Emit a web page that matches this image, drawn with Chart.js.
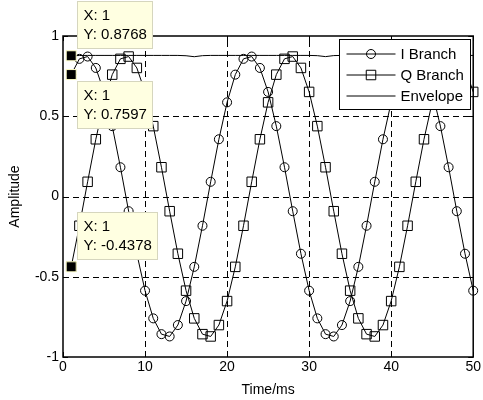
<!DOCTYPE html>
<html>
<head>
<meta charset="utf-8">
<title>I/Q branches and envelope</title>
<script src="https://cdn.jsdelivr.net/npm/chart.js@4.4.1/dist/chart.umd.min.js"></script>
<style>
  html, body { margin: 0; padding: 0; background: #fff; }
  #chart { display: block; }
</style>
</head>
<body>
<canvas id="chart" width="483" height="400"></canvas>
<script>
const timeMs = [
  1, 2, 3, 4, 5, 6, 7, 8, 9, 10,
  11, 12, 13, 14, 15, 16, 17, 18, 19, 20,
  21, 22, 23, 24, 25, 26, 27, 28, 29, 30,
  31, 32, 33, 34, 35, 36, 37, 38, 39, 40,
  41, 42, 43, 44, 45, 46, 47, 48, 49, 50
];

const iBranch = [
  0.7597, 0.8576, 0.8720, 0.8010, 0.6516, 0.4384, 0.1823, -0.0916, -0.3566, -0.5867,
  -0.7593, -0.8576, -0.8720, -0.8010, -0.6516, -0.4384, -0.1823, 0.0916, 0.3566, 0.5867,
  0.7593, 0.8576, 0.8720, 0.8010, 0.6516, 0.4384, 0.1823, -0.0916, -0.3566, -0.5867,
  -0.7593, -0.8576, -0.8720, -0.8010, -0.6516, -0.4384, -0.1823, 0.0916, 0.3566, 0.5867,
  0.7593, 0.8576, 0.8720, 0.8010, 0.6516, 0.4384, 0.1823, -0.0916, -0.3566, -0.5867
];

const qBranch = [
  -0.4378, -0.1823, 0.0916, 0.3566, 0.5867, 0.7593, 0.8576, 0.8720, 0.8010, 0.6516,
  0.4384, 0.1823, -0.0916, -0.3566, -0.5867, -0.7593, -0.8576, -0.8720, -0.8010, -0.6516,
  -0.4384, -0.1823, 0.0916, 0.3566, 0.5867, 0.7593, 0.8576, 0.8720, 0.8010, 0.6516,
  0.4384, 0.1823, -0.0916, -0.3566, -0.5867, -0.7593, -0.8576, -0.8720, -0.8010, -0.6516,
  -0.4384, -0.1823, 0.0916, 0.3566, 0.5867, 0.7593, 0.8576, 0.8720, 0.8010, 0.6516
];

const envelope = [
  0.8768, 0.8785, 0.8790, 0.8790, 0.8790, 0.8790, 0.8790, 0.8790, 0.8790, 0.8790,
  0.8790, 0.8790, 0.8790, 0.8790, 0.8770, 0.8710, 0.8775, 0.8790, 0.8790, 0.8790,
  0.8790, 0.8790, 0.8790, 0.8790, 0.8790, 0.8790, 0.8790, 0.8790, 0.8790, 0.8790,
  0.8775, 0.8715, 0.8780, 0.8790, 0.8790, 0.8790, 0.8790, 0.8790, 0.8790, 0.8790,
  0.8790, 0.8790, 0.8790, 0.8790, 0.8790, 0.8790, 0.8790, 0.8790, 0.8790, 0.8790
];

const xTicks = [0, 10, 20, 30, 40, 50];
const yTicks = [-1, -0.5, 0, 0.5, 1];

// data tips pinned on the first sample of each curve
const dataTips = [
  { series: envelope, index: 0, side: 'above' },
  { series: iBranch, index: 0, side: 'below' },
  { series: qBranch, index: 0, side: 'above' }
];

const FONT = "'Liberation Sans', Arial, Helvetica, sans-serif";

function toPoints (values) {
  return timeMs.map((t, i) => ({ x: t, y: values[i] }));
}

function drawMarker (ctx, style, cx, cy) {
  ctx.beginPath();
  if (style === 'circle') {
    ctx.arc(cx, cy, 4.5, 0, Math.PI * 2);
  } else if (style === 'rect') {
    ctx.rect(cx - 4.75, cy - 4.75, 9.5, 9.5);
  }
  ctx.stroke();
}

function drawLegend (chart) {
  const { ctx, chartArea: area } = chart;
  const w = 131;
  const h = 70;
  const left = Math.round(area.right - 3 - w) + 0.5;
  const top = area.top + 3.5;

  ctx.save();
  ctx.setLineDash([]);
  ctx.lineWidth = 1;
  ctx.strokeStyle = '#000';
  ctx.fillStyle = '#fff';
  ctx.fillRect(left, top, w, h);
  ctx.strokeRect(left, top, w, h);

  ctx.font = '15px ' + FONT;
  ctx.textBaseline = 'middle';
  ctx.textAlign = 'left';
  chart.data.datasets.forEach((ds, i) => {
    const cy = top + 14.5 + i * 21;
    ctx.beginPath();
    ctx.moveTo(left + 7, cy);
    ctx.lineTo(left + 56, cy);
    ctx.stroke();
    if (ds.pointRadius > 0) {
      ctx.fillStyle = '#fff';
      drawMarker(ctx, ds.pointStyle, left + 31.5, cy);
    }
    ctx.fillStyle = '#000';
    ctx.fillText(ds.label, left + 61, cy + 0.5);
  });
  ctx.restore();
}

function drawDataTips (chart) {
  const { ctx, scales: { x, y } } = chart;
  ctx.save();
  ctx.setLineDash([]);
  ctx.font = '15px ' + FONT;
  ctx.textBaseline = 'middle';
  ctx.textAlign = 'left';
  dataTips.forEach(tip => {
    const t = timeMs[tip.index];
    const v = tip.series[tip.index];
    const px = x.getPixelForValue(t);
    const py = y.getPixelForValue(v);
    const lines = ['X: ' + t, 'Y: ' + v.toFixed(4)];
    const w = Math.round(Math.max(...lines.map(l => ctx.measureText(l).width)) + 12);
    const h = 47;
    const bx = Math.round(px + 6) + 0.5;
    const by = Math.round(tip.side === 'above' ? py - 7.5 - h : py + 6.5) + 0.5;

    ctx.fillStyle = 'rgb(255, 255, 225)';
    ctx.strokeStyle = 'rgb(214, 214, 190)';
    ctx.lineWidth = 1;
    ctx.fillRect(bx, by, w, h);
    ctx.strokeRect(bx, by, w, h);

    ctx.fillStyle = '#000';
    ctx.fillText(lines[0], bx + 6, by + 14.5);
    ctx.fillText(lines[1], bx + 6, by + 33);

    // the marked sample itself
    ctx.fillStyle = '#000';
    ctx.strokeStyle = 'rgb(255, 255, 200)';
    ctx.fillRect(px - 5, py - 5, 10, 10);
    ctx.strokeRect(px - 5, py - 5, 10, 10);
  });
  ctx.restore();
}

const axesBox = {
  id: 'axesBox',
  beforeDatasetsDraw (chart) {
    const { ctx, chartArea: area, scales: { x, y } } = chart;
    ctx.save();
    ctx.strokeStyle = '#000';
    ctx.lineWidth = 1;
    ctx.setLineDash([6, 4]);
    ctx.beginPath();
    xTicks.slice(1, -1).forEach(v => {
      const px = Math.round(x.getPixelForValue(v)) + 0.5;
      ctx.moveTo(px, area.bottom);
      ctx.lineTo(px, area.top);
    });
    yTicks.slice(1, -1).forEach(v => {
      const py = Math.round(y.getPixelForValue(v)) + 0.5;
      ctx.moveTo(area.left, py);
      ctx.lineTo(area.right, py);
    });
    ctx.stroke();
    ctx.restore();
  },
  afterDatasetsDraw (chart) {
    const { ctx, chartArea: area, scales: { x, y } } = chart;
    ctx.save();
    ctx.strokeStyle = '#000';
    ctx.setLineDash([]);
    ctx.lineWidth = 1;
    ctx.beginPath();
    xTicks.forEach(v => {
      const px = Math.round(x.getPixelForValue(v)) + 0.5;
      ctx.moveTo(px, area.bottom);
      ctx.lineTo(px, area.bottom - 5);
      ctx.moveTo(px, area.top);
      ctx.lineTo(px, area.top + 5);
    });
    yTicks.forEach(v => {
      const py = Math.round(y.getPixelForValue(v)) + 0.5;
      ctx.moveTo(area.left, py);
      ctx.lineTo(area.left + 5, py);
      ctx.moveTo(area.right, py);
      ctx.lineTo(area.right - 5, py);
    });
    ctx.stroke();
    ctx.lineWidth = 1.5;
    ctx.strokeRect(area.left, area.top, area.right - area.left, area.bottom - area.top);
    ctx.restore();

    drawLegend(chart);
    drawDataTips(chart);
  }
};

const lineStyle = {
  borderColor: '#000',
  borderWidth: 1,
  pointBorderColor: '#000',
  pointBackgroundColor: 'rgba(0, 0, 0, 0)',
  pointBorderWidth: 1,
  tension: 0,
  clip: false
};

// eslint-disable-next-line no-undef
const chart = new Chart('chart', {
  type: 'line',
  data: {
    datasets: [
      { ...lineStyle, label: 'I Branch', data: toPoints(iBranch), pointStyle: 'circle', pointRadius: 4.5 },
      { ...lineStyle, label: 'Q Branch', data: toPoints(qBranch), pointStyle: 'rect', pointRadius: 6.7 },
      { ...lineStyle, label: 'Envelope', data: toPoints(envelope), pointRadius: 0 }
    ]
  },
  options: {
    responsive: false,
    animation: false,
    events: [],
    devicePixelRatio: 1,
    layout: { padding: { top: 36, right: 9, bottom: 0, left: 0 } },
    plugins: {
      legend: { display: false },
      tooltip: { enabled: false }
    },
    scales: {
      x: {
        type: 'linear',
        min: 0,
        max: 50,
        afterBuildTicks: scale => { scale.ticks = xTicks.map(value => ({ value })); },
        afterFit: scale => { scale.height = 43; },
        ticks: { color: '#000', font: { family: FONT, size: 14 }, padding: 2, maxRotation: 0, autoSkip: false },
        grid: { display: false, drawTicks: false },
        border: { display: false },
        title: { display: true, text: 'Time/ms', color: '#000', font: { family: FONT, size: 14 }, padding: { top: 0, bottom: 1 } }
      },
      y: {
        min: -1,
        max: 1,
        afterBuildTicks: scale => { scale.ticks = yTicks.map(value => ({ value })); },
        afterFit: scale => { scale.width = 63; },
        ticks: { color: '#000', font: { family: FONT, size: 14 }, padding: 4, callback: v => String(v) },
        grid: { display: false, drawTicks: false },
        border: { display: false },
        title: { display: true, text: 'Amplitude', color: '#000', font: { family: FONT, size: 14 }, padding: { top: 6.5, bottom: 0 } }
      }
    }
  },
  plugins: [axesBox]
});
</script>
</body>
</html>
